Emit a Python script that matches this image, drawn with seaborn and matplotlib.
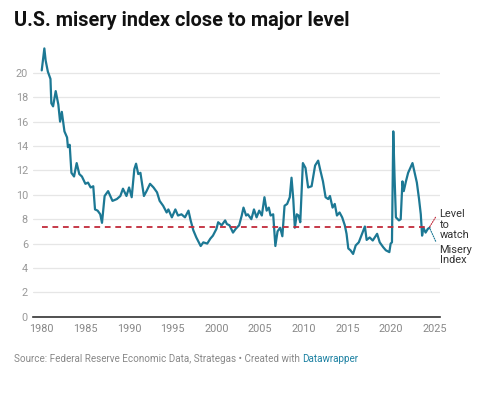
import seaborn as sns
import pandas as pd
import matplotlib.pyplot as plt

# misery index (unemployment + inflation)
years = [1980.0, 1980.3, 1980.45, 1980.7, 1981.0, 1981.1, 1981.3, 1981.6, 1981.9,
         1982.1, 1982.3, 1982.6, 1982.9, 1983.0, 1983.2, 1983.4, 1983.7, 1984.0,
         1984.3, 1984.6, 1985.0, 1985.3, 1985.6, 1985.9, 1986.1, 1986.4, 1986.7,
         1986.9, 1987.2, 1987.6, 1988.1, 1988.6, 1989.0, 1989.3, 1989.7, 1990.0,
         1990.3, 1990.6, 1990.8, 1991.05, 1991.3, 1991.7, 1992.0, 1992.4, 1992.8,
         1993.2, 1993.5, 1993.9, 1994.3, 1994.5, 1994.9, 1995.3, 1995.6, 1996.0,
         1996.4, 1996.8, 1997.05, 1997.35, 1997.7, 1998.2, 1998.5, 1998.95, 1999.3,
         1999.6, 2000.0, 2000.2, 2000.6, 2001.0, 2001.2, 2001.5, 2001.9, 2002.2,
         2002.6, 2002.9, 2003.1, 2003.4, 2003.6, 2004.0, 2004.3, 2004.6, 2004.9,
         2005.2, 2005.5, 2005.75, 2006.0, 2006.2, 2006.5, 2006.75, 2007.0, 2007.3,
         2007.55, 2007.8, 2008.1, 2008.4, 2008.6, 2008.8, 2008.98, 2009.2, 2009.4,
         2009.6, 2009.9, 2010.2, 2010.5, 2010.9, 2011.3, 2011.65, 2011.9, 2012.2,
         2012.5, 2012.8, 2013.0, 2013.3, 2013.55, 2013.8, 2014.1, 2014.4, 2014.7,
         2014.9, 2015.1, 2015.35, 2015.65, 2015.95, 2016.3, 2016.6, 2017.0, 2017.2,
         2017.55, 2017.9, 2018.4, 2018.7, 2019.1, 2019.4, 2019.8, 2019.95, 2020.1,
         2020.25, 2020.4, 2020.55, 2020.9, 2021.1, 2021.3, 2021.45, 2021.7, 2021.95,
         2022.2, 2022.45, 2022.7, 2022.95, 2023.2, 2023.4, 2023.55, 2023.7, 2023.95,
         2024.2, 2024.4]
misery = [20.2, 22.0, 21.0, 20.1, 19.5, 17.5, 17.25, 18.5, 17.4,
          16.0, 16.8, 15.2, 14.7, 13.9, 14.1, 11.8, 11.5, 12.6,
          11.7, 11.5, 10.9, 11.0, 10.6, 10.7, 8.8, 8.7, 8.4,
          7.7, 9.9, 10.3, 9.5, 9.65, 9.9, 10.5, 9.9, 10.6,
          9.8, 12.1, 12.55, 11.7, 11.8, 9.9, 10.3, 10.9, 10.6,
          10.2, 9.5, 9.1, 8.55, 8.8, 8.15, 8.8, 8.3, 8.4,
          8.15, 8.7, 7.9, 7.1, 6.5, 5.8, 6.1, 6.0, 6.4,
          6.65, 7.2, 7.75, 7.5, 7.9, 7.6, 7.5, 6.9, 7.2,
          7.5, 8.3, 8.95, 8.3, 8.4, 8.0, 8.8, 8.15, 8.7,
          8.3, 9.8, 8.7, 8.95, 8.3, 8.4, 5.8, 7.0, 7.3,
          6.6, 9.1, 9.25, 9.8, 11.4, 9.65, 7.3, 8.4, 8.3,
          7.75, 12.6, 12.2, 10.6, 10.7, 12.4, 12.8, 12.0, 11.1,
          9.8, 9.65, 9.9, 8.95, 9.25, 8.3, 8.55, 8.15, 7.5,
          6.8, 5.6, 5.45, 5.15, 5.85, 6.1, 6.65, 7.4, 6.3,
          6.5, 6.25, 6.8, 6.1, 5.7, 5.45, 5.3, 6.0, 6.1,
          15.2, 11.4, 8.15, 7.9, 8.0, 11.1, 10.3, 11.1, 11.8,
          12.2, 12.6, 11.8, 11.0, 9.65, 8.4, 6.65, 7.3, 6.9,
          7.2, 7.3]
level = 7.35
yticks = [0, 2, 4, 6, 8, 10, 12, 14, 16, 18, 20]
xticks = [1980, 1985, 1990, 1995, 2000, 2005, 2010, 2015, 2020, 2025]

df = pd.DataFrame({'year': years, 'misery': misery})

sns.set_theme(style='white')
plt.rcParams['font.family'] = ['Roboto', 'DejaVu Sans']

line_col = '#1c7894'
red = '#c12a3a'

fig = plt.figure(figsize=(5, 3.93), dpi=100)
ax = fig.add_axes([0.066, 0.194, 0.814, 0.689])

sns.lineplot(data=df, x='year', y='misery', ax=ax, color=line_col, linewidth=1.6)
ax.hlines(level, years[0], years[-1], colors=red, linestyles=(0, (3.2, 2.6)), linewidth=1.3, zorder=3)

ax.set_xlim(1979.0, 2025.6)
ax.set_ylim(0, 22.2)
ax.set_yticks(yticks)
ax.set_xticks(xticks)
ax.set_xlabel('')
ax.set_ylabel('')
ax.grid(axis='y', color='#e6e6e6', linewidth=0.9)
ax.grid(axis='x', visible=False)
for s in ['top', 'right', 'left']:
    ax.spines[s].set_visible(False)
ax.spines['bottom'].set_color('#333333')
ax.spines['bottom'].set_linewidth(1.2)
ax.tick_params(axis='y', length=0, pad=3.6, labelsize=7.8, labelcolor='#999999')
ax.tick_params(axis='x', length=0, pad=5, labelsize=7.8, labelcolor='#888888')

# annotations
ax.annotate('Level\nto\nwatch', xy=(years[-1], level), xytext=(7.2, 1.8),
            textcoords='offset points', va='center', ha='left', fontsize=7.9,
            color='#333333', linespacing=1.05,
            arrowprops=dict(arrowstyle='-', color=red, linestyle=(0, (1, 1.2)),
                            linewidth=0.8, relpos=(0, 0.95), shrinkA=1, shrinkB=0))
ax.annotate('Misery\nIndex', xy=(years[-1], misery[-1]), xytext=(7.2, -19.5),
            textcoords='offset points', va='center', ha='left', fontsize=7.9,
            color='#333333', linespacing=1.05,
            arrowprops=dict(arrowstyle='-', color=line_col, linestyle=(0, (1, 1.2)),
                            linewidth=0.8, relpos=(0, 0.75), shrinkA=1, shrinkB=1))

fig.text(14 / 500, 1 - 20 / 393, 'U.S. misery index close to major level',
         fontsize=14.3, fontweight='bold', color='#111111', va='center', ha='left')
src = fig.text(14 / 500, 1 - 359 / 393,
               'Source: Federal Reserve Economic Data, Strategas \u2022 Created with ',
               fontsize=7.1, color='#888888', va='center', ha='left')
ax.annotate('Datawrapper', xy=(1, 0.5), xycoords=src, va='center', ha='left',
            fontsize=7.1, color='#1d81a2', annotation_clip=False)

fig.savefig('out.png', dpi=100)
